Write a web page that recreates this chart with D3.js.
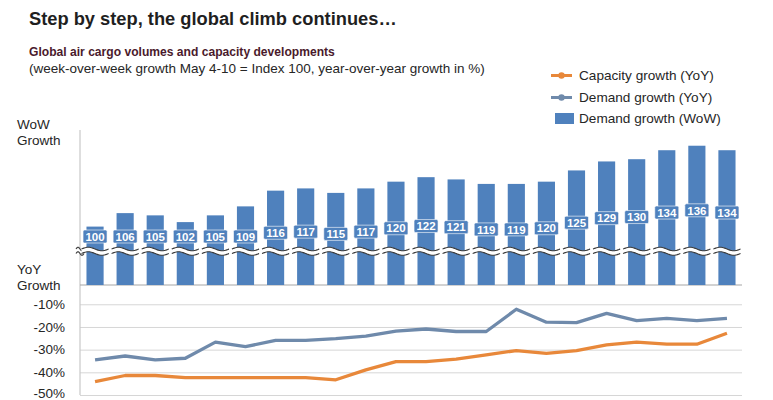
<!DOCTYPE html>
<html>
<head>
<meta charset="utf-8">
<script src="https://cdn.jsdelivr.net/npm/d3@7"></script>
<style>
  html, body { margin: 0; padding: 0; background: #fff; }
  svg { display: block; font-family: "Liberation Sans", Arial, Helvetica, sans-serif; }
</style>
</head>
<body>
<svg id="chart" width="773" height="400"></svg>
<script>
// ---- data ----
const weeks = ["CW19","CW20","CW21","CW22","CW23","CW24","CW25","CW26","CW27","CW28","CW29",
               "CW30","CW31","CW32","CW33","CW34","CW35","CW36","CW37","CW38","CW39","CW40"];
const demandWoW = [100,106,105,102,105,109,116,117,115,117,120,122,121,119,119,120,125,129,130,134,136,134];
const demandYoY = [-34.5,-32.8,-34.5,-33.8,-26.7,-28.7,-25.9,-25.9,-25.1,-24.0,-21.8,
                   -20.9,-22.0,-22.0,-12.2,-17.9,-18.1,-14.0,-17.2,-16.2,-17.2,-16.2];
const capacityYoY = [-44.1,-41.4,-41.4,-42.3,-42.3,-42.3,-42.3,-42.3,-43.3,-38.9,-35.3,
                     -35.3,-34.2,-32.3,-30.4,-31.6,-30.4,-27.9,-26.7,-27.6,-27.6,-22.8];
const yoyTicks = [-50,-40,-30,-20,-10];
const legendLabels = ["Capacity growth (YoY)", "Demand growth (YoY)", "Demand growth (WoW)"];

// ---- style ----
const barColor = "#4f81bd";
const demandColor = "#6f8aab";
const capColor = "#e8883a";
const textColor = "#262626";

const svg = d3.select("#chart");
const left = 80, right = 742;

const x = d3.scaleBand().domain(weeks).range([left, right]).paddingInner(0.43).paddingOuter(0.215);
const yWoW = d3.scaleLinear().domain([74, 143]).range([285, 130]);
const yYoY = d3.scaleLinear().domain([-50, 0]).range([395, 281.6]);

// titles
svg.append("text").attr("x", 29).attr("y", 25)
  .attr("font-size", 18.3).attr("font-weight", "bold").attr("fill", "#1f1f1f")
  .text("Step by step, the global climb continues…");
svg.append("text").attr("x", 29).attr("y", 56)
  .attr("font-size", 12.1).attr("font-weight", "bold").attr("fill", "#4a1a2c")
  .text("Global air cargo volumes and capacity developments");
svg.append("text").attr("x", 29).attr("y", 73)
  .attr("font-size", 13.5).attr("fill", textColor)
  .text("(week-over-week growth May 4-10 = Index 100, year-over-year growth in %)");

// axis titles
const axT = svg.append("g").attr("font-size", 13.5).attr("fill", textColor);
axT.append("text").attr("x", 17).attr("y", 129).text("WoW");
axT.append("text").attr("x", 17).attr("y", 145).text("Growth");
axT.append("text").attr("x", 17).attr("y", 274).text("YoY");
axT.append("text").attr("x", 17).attr("y", 290).text("Growth");

// YoY axis with gridlines
const gAxis = svg.append("g").attr("transform", `translate(${left},0)`)
  .call(d3.axisLeft(yYoY).tickValues(yoyTicks).tickFormat(d => d + "%")
        .tickSize(-(right - left)).tickPadding(15));
gAxis.select(".domain").remove();
gAxis.selectAll(".tick line").attr("stroke", "#d6d6d6").attr("stroke-width", 1);
gAxis.selectAll(".tick text").attr("fill", textColor).attr("font-size", 13.5)
  .attr("font-family", "'Liberation Sans', Arial, sans-serif")
  .attr("dy", d => d === -50 ? "0.18em" : "0.32em");

// vertical axis line and baseline
svg.append("line").attr("x1", left).attr("x2", left).attr("y1", 130).attr("y2", 395)
  .attr("stroke", "#c8c8c8").attr("stroke-width", 1.2);
svg.append("line").attr("x1", left).attr("x2", right).attr("y1", yWoW(74)).attr("y2", yWoW(74))
  .attr("stroke", "#a6a6a6").attr("stroke-width", 1.2);

// bars
svg.append("g").selectAll("rect").data(demandWoW).join("rect")
  .attr("x", (d, i) => x(weeks[i]))
  .attr("width", x.bandwidth())
  .attr("y", d => yWoW(d))
  .attr("height", d => yWoW(74) - yWoW(d))
  .attr("fill", barColor);

// axis break (wavy white band)
const breakTop = 249, breakBot = 253.5, amp = 1.8;
function wave(x0, x1, y) {
  const pts = [];
  const n = 24;
  for (let k = 0; k <= n; k++) {
    const xx = x0 + (x1 - x0) * k / n;
    pts.push([xx, y - amp * Math.sin(2 * Math.PI * k / n)]);
  }
  return pts;
}
const breakSpans = weeks.map(w => [x(w) - 5, x(w) + x.bandwidth() + 5]);
breakSpans.unshift([left - 4, left + 4]);
const gBreak = svg.append("g");
breakSpans.forEach(([x0, x1]) => {
  const top = wave(x0, x1, breakTop), bot = wave(x0, x1, breakBot);
  gBreak.append("path")
    .attr("d", d3.line()(top.concat(bot.slice().reverse())) + "Z")
    .attr("fill", "#fff");
  [top, bot].forEach(p => gBreak.append("path").attr("d", d3.line().curve(d3.curveBasis)(p))
    .attr("fill", "none").attr("stroke", "#3a3a3a").attr("stroke-width", 1.1));
});

// value labels
const labelBase = yWoW(78.5);
const gLab = svg.append("g");
demandWoW.forEach((v, i) => {
  const cx = x(weeks[i]) + x.bandwidth() / 2;
  const cy = Math.min(breakTop - 12.5, (yWoW(v) + labelBase) / 2);
  gLab.append("rect").attr("x", cx - 12).attr("y", cy - 6.5).attr("width", 24).attr("height", 13)
    .attr("rx", 1.5).attr("fill", barColor).attr("stroke", "#fff").attr("stroke-width", 0.6);
  gLab.append("text").attr("x", cx).attr("y", cy + 4.2).attr("text-anchor", "middle")
    .attr("font-size", 11.5).attr("font-weight", "bold").attr("fill", "#fff").text(v);
});

// YoY lines
const cxOf = (d, i) => x(weeks[i]) + x.bandwidth() / 2;
svg.append("path").datum(demandYoY)
  .attr("d", d3.line().x(cxOf).y(d => yYoY(d)))
  .attr("fill", "none").attr("stroke", demandColor).attr("stroke-width", 3.3)
  .attr("stroke-linejoin", "round");
svg.append("path").datum(capacityYoY)
  .attr("d", d3.line().x(cxOf).y(d => yYoY(d)))
  .attr("fill", "none").attr("stroke", capColor).attr("stroke-width", 3.3)
  .attr("stroke-linejoin", "round");

// legend
const lg = svg.append("g").attr("font-size", 13.6).attr("fill", textColor);
[[capColor, 75.5], [demandColor, 97.5]].forEach(([c, y], i) => {
  lg.append("line").attr("x1", 551).attr("x2", 572).attr("y1", y).attr("y2", y)
    .attr("stroke", c).attr("stroke-width", 3);
  lg.append("circle").attr("cx", 561.5).attr("cy", y).attr("r", 3.2).attr("fill", c);
  lg.append("text").attr("x", 579).attr("y", y + 4.7).text(legendLabels[i]);
});
lg.append("rect").attr("x", 555).attr("y", 113).attr("width", 19).attr("height", 11).attr("fill", barColor);
lg.append("text").attr("x", 579).attr("y", 123.2).text(legendLabels[2]);
</script>
</body>
</html>
